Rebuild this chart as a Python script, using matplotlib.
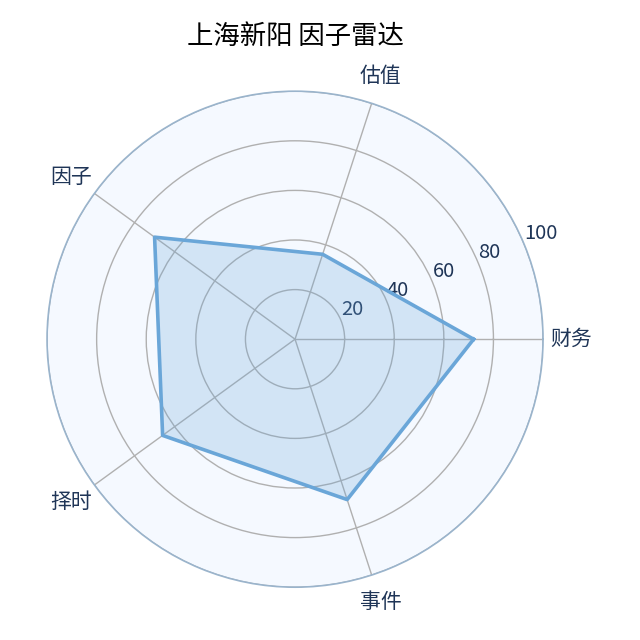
import numpy as np
import matplotlib
matplotlib.use("Agg")
import matplotlib.pyplot as plt

plt.rcParams['font.family'] = ['Noto Sans CJK SC', 'DejaVu Sans']

title = "上海新阳 因子雷达"
categories = ["财务", "估值", "因子", "择时", "事件"]
values = [72, 36, 70, 66, 68]
rticks = [20, 40, 60, 80, 100]

txt_color = "#1f3557"
n = len(categories)
angles = np.linspace(0, 2 * np.pi, n, endpoint=False)

fig = plt.figure(figsize=(6.4, 6.4), dpi=100)
ax = fig.add_axes([0.0735, 0.0825, 0.775, 0.775], projection="polar")
ax.set_facecolor("#f5f9ff")
ax.set_axisbelow(True)

a = np.append(angles, angles[0])
v = np.append(values, values[0])
ax.fill(a, v, color="#6aa6d8", alpha=0.25, zorder=2)
ax.plot(a, v, color="#6aa6d8", lw=2.6, zorder=3)

ax.set_ylim(0, 100)
ax.set_yticks(rticks)
ax.set_yticklabels([str(t) for t in rticks], color=txt_color, fontsize=14.5)
ax.set_rlabel_position(22.5)
ax.set_xticks(angles)
ax.set_xticklabels(categories, color=txt_color, fontsize=15)
ax.tick_params(axis="x", pad=10)
ax.grid(color="#b0b0b0", lw=1)
ax.spines["polar"].set_color("#9ab4cc")
ax.spines["polar"].set_linewidth(1.2)

ax.set_title(title, fontsize=19, pad=34)

fig.savefig("out.png", dpi=100)
